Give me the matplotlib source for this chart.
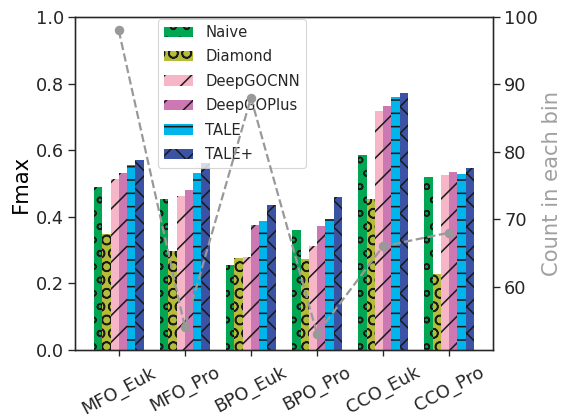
import numpy as np
import matplotlib
matplotlib.use("Agg")
import matplotlib.pyplot as plt

plt.rcParams.update(
    {
        "font.family": "DejaVu Sans",
        "hatch.linewidth": 1.4,
        "hatch.color": "#1a1a1a",
        "axes.edgecolor": "#262626",
        "text.color": "#262626",
        "xtick.color": "#262626",
        "ytick.color": "#262626",
    }
)

groups = ["MFO_Euk", "MFO_Pro", "BPO_Euk", "BPO_Pro", "CCO_Euk", "CCO_Pro"]
methods = ["Naive", "Diamond", "DeepGOCNN", "DeepGOPlus", "TALE", "TALE+"]

naive = [0.489, 0.453, 0.255, 0.360, 0.586, 0.520]
diamond = [0.348, 0.297, 0.275, 0.274, 0.453, 0.229]
deepgocnn = [0.513, 0.462, 0.279, 0.312, 0.718, 0.526]
deepgoplus = [0.531, 0.480, 0.374, 0.372, 0.733, 0.535]
tale = [0.556, 0.531, 0.387, 0.393, 0.760, 0.529]
tale_plus = [0.571, 0.562, 0.435, 0.459, 0.772, 0.547]

counts = [98, 54, 88, 53, 66, 68]

scores = [naive, diamond, deepgocnn, deepgoplus, tale, tale_plus]
colors = ["#00a651", "#b5bd38", "#f7b5c8", "#cc79b3", "#00b5eb", "#3a53a4"]
hatches = ["o", "O", "/", "/", "-", "x"]

fig = plt.figure(figsize=(563 / 80, 417 / 80), dpi=80)
ax = fig.add_axes([75 / 563, 1 - 350 / 417, 418 / 563, 333 / 417])

x = np.arange(len(groups))
w = 0.125
for j, (name, vals) in enumerate(zip(methods, scores)):
    ax.bar(x + (j - 2.5) * w, vals, w, color=colors[j], hatch=hatches[j],
           edgecolor="#1a1a1a", linewidth=0, label=name)

ax.set_ylim(0, 1.0)
ax.set_yticks([0.0, 0.2, 0.4, 0.6, 0.8, 1.0])
ax.set_xticks(x)
ax.set_xticklabels(groups, rotation=28, ha="center", fontsize=16)
ax.tick_params(axis="y", labelsize=16, length=6, width=1.2, pad=4)
ax.tick_params(axis="x", length=5, width=1.2, pad=7)
ax.set_ylabel("Fmax", fontsize=19)
for s in ax.spines.values():
    s.set_linewidth(1.2)

leg = ax.legend(loc="upper left", bbox_to_anchor=(158 / 563, 1 - 19 / 417),
                bbox_transform=fig.transFigure, borderaxespad=0, fontsize=13.3,
                frameon=True, edgecolor="#cccccc", handlelength=2.0,
                labelspacing=0.64)

ax2 = ax.twinx()
ax2.plot(x, counts, color="#999999", linestyle="--", linewidth=2,
         marker="o", markersize=7.5)
ax2.set_ylim(50.6, 100)
ax2.set_yticks([60, 70, 80, 90, 100])
ax2.tick_params(axis="y", labelsize=16, length=6, width=1.2, pad=4)
ax2.set_ylabel("Count in each bin", fontsize=19, color="#a0a0a0", labelpad=4)
for s in ax2.spines.values():
    s.set_linewidth(1.2)

fig.savefig("out.png", dpi=80)
